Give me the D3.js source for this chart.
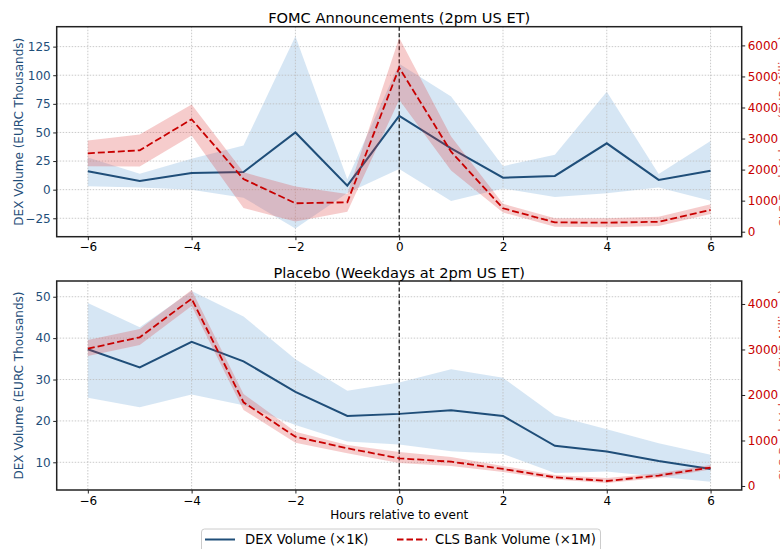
<!DOCTYPE html>
<html><head><meta charset="utf-8">
<script src="https://cdn.jsdelivr.net/npm/d3@7"></script>
<style>
body{margin:0;background:#fff}
svg{display:block}
text{font-family:"DejaVu Sans",sans-serif}
</style>
</head><body>
<svg id="c" width="780" height="549"></svg>
<script>
// ---------- data ----------
const hours = [-6,-5,-4,-3,-2,-1,0,1,2,3,4,5,6];
const xTicks = [-6,-4,-2,0,2,4,6];

// FOMC announcements
const fomcDex    = [16, 7.5, 14.5, 15.5, 50, 3.5, 64.5, 36, 10.5, 12, 40.5, 8.5, 16.5];
const fomcDexLo  = [3, 2, 0, -7, -34, -3, 18, -10, 1, -6.5, -3.2, 2, -9.6];
const fomcDexHi  = [28, 14, 27, 38.5, 134, 9, 110, 81.5, 20.5, 30.5, 85.5, 13.7, 42.5];
const fomcCls    = [2525, 2622, 3620, 1697, 915, 947, 5282, 2577, 754, 300, 290, 320, 700];
const fomcClsLo  = [2106, 2097, 3097, 764, 332, 645, 4250, 1968, 620, 160, 142, 183, 570];
const fomcClsHi  = [2935, 3129, 4097, 1913, 1452, 1216, 6250, 3065, 900, 430, 431, 483, 882];

// Placebo
const placDex    = [37.3, 32.9, 39.1, 34.4, 27.0, 21.2, 21.7, 22.6, 21.2, 14.0, 12.6, 10.3, 8.4];
const placDexLo  = [25.6, 23.3, 26.4, 23.8, 19.0, 15.0, 14.3, 12.7, 12.0, 7.4, 7.8, 6.5, 5.3];
const placDexHi  = [48.5, 42.6, 51.4, 45.2, 34.9, 27.3, 29.3, 32.5, 30.4, 21.3, 18.0, 14.6, 11.8];
const placCls    = [3018, 3268, 4116, 1840, 1084, 829, 609, 534, 374, 191, 110, 230, 405];
const placClsLo  = [2857, 3099, 3956, 1670, 952, 718, 505, 440, 308, 143, 66, 176, 360];
const placClsHi  = [3209, 3450, 4308, 2022, 1194, 901, 747, 637, 440, 242, 176, 280, 460];

const fomcLeftTicks  = [-25, 0, 25, 50, 75, 100, 125];
const fomcRightTicks = [0, 1000, 2000, 3000, 4000, 5000, 6000];
const placLeftTicks  = [10, 20, 30, 40, 50];
const placRightTicks = [0, 1000, 2000, 3000, 4000];

const titles = ["FOMC Announcements (2pm US ET)", "Placebo (Weekdays at 2pm US ET)"];
const leftLabel = "DEX Volume (EURC Thousands)";
const rightLabel = "CLS Bank Volume (EUR Millions)";
const xLabel = "Hours relative to event";
const legendLabels = ["DEX Volume (\u00d71K)", "CLS Bank Volume (\u00d71M)"];

// ---------- style ----------
const BLUE = "#1f4e79", RED = "#c80000";
const BAND_BLUE = "#5b9bd5", BAND_RED = "#dc3232";
const L = 56.7, R = 741.7;
const svg = d3.select("#c");
const x = d3.scaleLinear().domain([-6.6, 6.6]).range([L, R]);

function panel(cfg) {
  const yl = d3.scaleLinear().domain(cfg.leftDomain).range([cfg.bottom, cfg.top]);
  const yr = d3.scaleLinear().domain(cfg.rightDomain).range([cfg.bottom, cfg.top]);
  const g = svg.append("g");
  const rows = hours.map((h, i) => ({h, d: cfg.dex[i], dl: cfg.dexLo[i], dh: cfg.dexHi[i],
                                     c: cfg.cls[i], cl: cfg.clsLo[i], ch: cfg.clsHi[i]}));
  // blue band
  g.append("path").datum(rows)
    .attr("d", d3.area().x(r => x(r.h)).y0(r => yl(r.dl)).y1(r => yl(r.dh)))
    .attr("fill", BAND_BLUE).attr("fill-opacity", 0.25);
  // grid
  const grid = g.append("g").attr("stroke", "#bdbdbd").attr("stroke-width", 0.8)
    .attr("stroke-dasharray", "1.5,1.5");
  xTicks.forEach(t => grid.append("line").attr("x1", x(t)).attr("x2", x(t))
    .attr("y1", cfg.top).attr("y2", cfg.bottom));
  cfg.leftTicks.forEach(t => grid.append("line").attr("x1", L).attr("x2", R)
    .attr("y1", yl(t)).attr("y2", yl(t)));
  // blue line
  g.append("path").datum(rows)
    .attr("d", d3.line().x(r => x(r.h)).y(r => yl(r.d)))
    .attr("fill", "none").attr("stroke", BLUE).attr("stroke-width", 2);
  // event line
  g.append("line").attr("x1", x(0)).attr("x2", x(0)).attr("y1", cfg.top).attr("y2", cfg.bottom)
    .attr("stroke", "#000").attr("stroke-width", 1.1).attr("stroke-dasharray", "4,2.5");
  // red band
  g.append("path").datum(rows)
    .attr("d", d3.area().x(r => x(r.h)).y0(r => yr(r.cl)).y1(r => yr(r.ch)))
    .attr("fill", BAND_RED).attr("fill-opacity", 0.25);
  // red line
  g.append("path").datum(rows)
    .attr("d", d3.line().x(r => x(r.h)).y(r => yr(r.c)))
    .attr("fill", "none").attr("stroke", RED).attr("stroke-width", 1.8)
    .attr("stroke-dasharray", "7,3");
  // frame
  g.append("rect").attr("x", L).attr("y", cfg.top).attr("width", R - L).attr("height", cfg.bottom - cfg.top)
    .attr("fill", "none").attr("stroke", "#222").attr("stroke-width", 1.5);
  // axes
  const ax = g.append("g").attr("transform", `translate(0,${cfg.bottom})`)
    .call(d3.axisBottom(x).tickValues(xTicks).tickSize(3.5).tickPadding(2.5).tickFormat(d3.format("d")));
  const al = g.append("g").attr("transform", `translate(${L},0)`)
    .call(d3.axisLeft(yl).tickValues(cfg.leftTicks).tickSize(3.5).tickPadding(2.5).tickFormat(d3.format("d")));
  const ar = g.append("g").attr("transform", `translate(${R},0)`)
    .call(d3.axisRight(yr).tickValues(cfg.rightTicks).tickSize(3.5).tickPadding(2.5).tickFormat(d3.format("d")));
  [ax, al, ar].forEach(a => {
    a.select(".domain").remove();
    a.selectAll("line").attr("stroke", "#222").attr("stroke-width", 1);
    a.selectAll("text").attr("font-size", 12).attr("font-family", "DejaVu Sans");
  });
  ax.selectAll("text").attr("fill", "#000");
  al.selectAll("text").attr("fill", BLUE);
  ar.selectAll("text").attr("fill", RED);
  // titles & labels
  g.append("text").attr("x", (L + R) / 2).attr("y", cfg.top - 3.5).attr("text-anchor", "middle")
    .attr("font-size", 14.6).attr("fill", "#000").text(cfg.title);
  const cy = (cfg.top + cfg.bottom) / 2;
  g.append("text").attr("transform", `translate(22.5,${cy}) rotate(-90)`).attr("text-anchor", "middle")
    .attr("font-size", 12).attr("fill", BLUE).text(leftLabel);
  g.append("text").attr("transform", `translate(787.5,${cy}) rotate(-90)`).attr("text-anchor", "middle")
    .attr("font-size", 12).attr("fill", RED).attr("fill-opacity", 0.7).text(rightLabel);
}

panel({top: 26.7, bottom: 236.7, leftDomain: [-41.1, 142.4], rightDomain: [-161, 6602],
       dex: fomcDex, dexLo: fomcDexLo, dexHi: fomcDexHi, cls: fomcCls, clsLo: fomcClsLo, clsHi: fomcClsHi,
       leftTicks: fomcLeftTicks, rightTicks: fomcRightTicks, title: titles[0]});
panel({top: 281, bottom: 490, leftDomain: [3.31, 53.8], rightDomain: [-88, 4505],
       dex: placDex, dexLo: placDexLo, dexHi: placDexHi, cls: placCls, clsLo: placClsLo, clsHi: placClsHi,
       leftTicks: placLeftTicks, rightTicks: placRightTicks, title: titles[1]});

// x label
svg.append("text").attr("x", (L + R) / 2).attr("y", 518.5).attr("text-anchor", "middle")
  .attr("font-size", 12).attr("fill", "#000").text(xLabel);

// legend
const lg = svg.append("g");
lg.append("rect").attr("x", 201.5).attr("y", 529).attr("width", 399).attr("height", 30).attr("rx", 3)
  .attr("fill", "#fff").attr("fill-opacity", 0.8).attr("stroke", "#cccccc").attr("stroke-width", 1);
lg.append("line").attr("x1", 205).attr("x2", 235).attr("y1", 539.5).attr("y2", 539.5)
  .attr("stroke", BLUE).attr("stroke-width", 2);
lg.append("text").attr("x", 245).attr("y", 544.3).attr("font-size", 13.2).attr("fill", "#000").text(legendLabels[0]);
lg.append("line").attr("x1", 397).attr("x2", 427).attr("y1", 539.5).attr("y2", 539.5)
  .attr("stroke", RED).attr("stroke-width", 1.8).attr("stroke-dasharray", "6.5,3");
lg.append("text").attr("x", 435).attr("y", 544.3).attr("font-size", 13.2).attr("fill", "#000").text(legendLabels[1]);
</script>
</body></html>
